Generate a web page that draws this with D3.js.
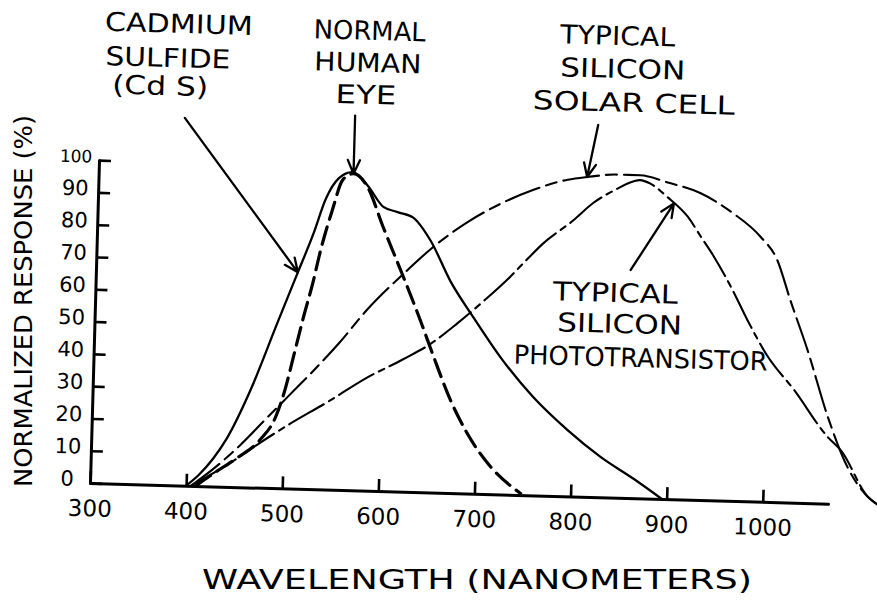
<!DOCTYPE html>
<html>
<head>
<meta charset="utf-8">
<script src="https://cdn.jsdelivr.net/npm/d3@7"></script>
<style>
  body { margin: 0; background: #fff; }
  svg { display: block; }
  text { font-family: "DejaVu Sans", sans-serif; fill: #000; }
</style>
</head>
<body>
<svg id="chart" width="877" height="605"></svg>
<script>
// ---- tick labels ----
const wavelengthTicks = [300, 400, 500, 600, 700, 800, 900, 1000];
const responseTicks = [0, 10, 20, 30, 40, 50, 60, 70, 80, 90, 100];

// ---- spectral response curves (wavelength in nm, normalized response in %) ----
const cdsWavelength = [400, 413, 427, 441, 464, 490, 510, 525, 537, 550, 564, 580, 597, 612, 628, 647, 669, 694, 723, 758, 795, 830, 865, 895];
const cdsResponse   = [0, 3.5, 8.5, 15, 30, 51, 67, 79, 90, 96.5, 98.5, 94.5, 88, 86.5, 85, 78, 65.5, 54.5, 42.5, 30.5, 20.5, 12.5, 6, 0];

const eyeWavelength = [410, 428, 452, 476, 491, 500, 508, 517, 526, 533, 544, 554, 565, 580, 597, 622, 639, 653, 672, 691, 716, 748];
const eyeResponse   = [0, 4, 9, 15, 22, 30.5, 41, 53, 64, 74, 86.5, 96, 98, 94, 82, 65, 53, 42.5, 29, 18.5, 8.5, 0.5];

const solarWavelength = [405, 430, 455, 480, 505, 530, 555, 583, 620, 650, 685, 719, 752, 788, 808, 839, 863, 892, 926, 961, 990, 1008, 1023, 1042, 1065, 1087, 1109, 1120];
const solarResponse   = [0, 6, 13, 21, 29, 37, 45.5, 56, 67.5, 76, 84, 90, 94.5, 98, 99, 100, 100, 98, 95, 89, 82, 75, 62.5, 47.5, 27, 11.5, 2.5, 0];

const photoWavelength = [405, 448, 476, 506, 544, 585, 622, 650, 677, 705, 731, 748, 764, 795, 815, 836, 856, 863, 874, 892, 914, 928, 942, 963, 979, 1001, 1029, 1066, 1080, 1109, 1120];
const photoResponse   = [0, 8, 14, 20, 27, 35, 41, 46, 52.5, 60, 67.5, 73, 78, 85.5, 91, 95, 98, 98.5, 97.5, 93.5, 87.5, 81.5, 75.5, 65, 56, 45, 35, 20.5, 16.5, 2.5, 0];

// ---- curve labels ----
const cdsLabel   = ["CADMIUM", "SULFIDE", "(Cd S)"];
const eyeLabel   = ["NORMAL", "HUMAN", "EYE"];
const solarLabel = ["TYPICAL", "SILICON", "SOLAR CELL"];
const photoLabel = ["TYPICAL", "SILICON", "PHOTOTRANSISTOR"];

// ---- pointer arrows: tail in data units, head lands on the curve at a wavelength ----
const arrowTailWavelength = [388, 565, 818, 856];
const arrowTailResponse   = [113.8, 116, 115.2, 70.6];
const arrowTargetWavelength = [510, 565, 808, 899];

const xAxisTitle = "WAVELENGTH (NANOMETERS)";
const yAxisTitle = "NORMALIZED RESPONSE (%)";

// ---------------------------------------------------------------------
const svg = d3.select("#chart");
const ox = 90, oy = 483;          // plot origin
const tilt = 1.6;                  // the sketched plot sits slightly askew

const x = d3.scaleLinear().domain([300, 1000]).range([ox, 763]);
const y = d3.scaleLinear().domain([0, 100]).range([oy, 160]);
const xAxisScale = x.copy().domain([300, 1068]).range([x(300), x(1068)]);

const plot = svg.append("g").attr("transform", `rotate(${tilt},${ox},${oy})`);

const zip = (a, b) => a.map((v, i) => [v, b[i]]);
const series = [
  { pts: zip(cdsWavelength, cdsResponse),     dash: null,          width: 2.3 },
  { pts: zip(eyeWavelength, eyeResponse),     dash: "18,8",        width: 3.2 },
  { pts: zip(solarWavelength, solarResponse), dash: "36,7,11,7",   width: 2.1 },
  { pts: zip(photoWavelength, photoResponse), dash: "40,6,6,6",    width: 2.1 }
];

// axes
const xAxis = d3.axisBottom(xAxisScale)
  .tickValues(wavelengthTicks)
  .tickSizeInner(-12).tickSizeOuter(0).tickPadding(17)
  .tickFormat(d3.format("d"));
const gx = plot.append("g").attr("transform", `translate(0,${oy})`).call(xAxis);

const yAxis = d3.axisLeft(y)
  .tickValues(responseTicks)
  .tickSizeInner(-12).tickSizeOuter(0).tickPadding(23)
  .tickFormat(d3.format("d"));
const gy = plot.append("g").attr("transform", `translate(${ox},0)`).call(yAxis);

[gx, gy].forEach(g => {
  g.select(".domain").attr("stroke", "#000").attr("stroke-width", 3).attr("stroke-linecap", "round");
  g.selectAll(".tick line").attr("stroke", "#000").attr("stroke-width", 2.6);
  g.selectAll("text").attr("font-family", "DejaVu Sans").attr("fill", "#000");
});
gx.selectAll("text").attr("font-size", 23);
gy.selectAll("text")
  .attr("font-size", d => d === 100 ? 17 : 21)
  .attr("text-anchor", "middle")
  .attr("x", -23)
  .attr("dy", "0.13em");

// curves
const line = d3.line()
  .x(d => x(d[0]))
  .y(d => y(d[1]))
  .curve(d3.curveMonotoneX);

plot.append("g").selectAll("path")
  .data(series)
  .join("path")
  .attr("d", s => line(s.pts))
  .attr("fill", "none")
  .attr("stroke", "#000")
  .attr("stroke-width", s => s.width)
  .attr("stroke-dasharray", s => s.dash)
  .attr("stroke-linecap", "round")
  .attr("stroke-linejoin", "round");

// pointer arrows
function responseAt(pts, w) {
  const i = d3.bisector(d => d[0]).left(pts, w);
  if (i <= 0) return pts[0][1];
  if (i >= pts.length) return pts[pts.length - 1][1];
  const [w0, r0] = pts[i - 1], [w1, r1] = pts[i];
  return r0 + (r1 - r0) * (w - w0) / (w1 - w0);
}
const arrows = arrowTargetWavelength.map((w, i) => {
  const x0 = x(arrowTailWavelength[i]), y0 = y(arrowTailResponse[i]);
  const x1 = x(w), y1 = y(responseAt(series[i].pts, w));
  return { x0, y0, x1, y1 };
});
const headLen = 15, headAng = 24 * Math.PI / 180;
plot.append("g").selectAll("path")
  .data(arrows)
  .join("path")
  .attr("d", a => {
    const ang = Math.atan2(a.y1 - a.y0, a.x1 - a.x0);
    const l = [a.x1 - headLen * Math.cos(ang - headAng), a.y1 - headLen * Math.sin(ang - headAng)];
    const r = [a.x1 - headLen * Math.cos(ang + headAng), a.y1 - headLen * Math.sin(ang + headAng)];
    return `M${a.x0},${a.y0}L${a.x1},${a.y1}M${l[0]},${l[1]}L${a.x1},${a.y1}L${r[0]},${r[1]}`;
  })
  .attr("fill", "none")
  .attr("stroke", "#000")
  .attr("stroke-width", 2.3)
  .attr("stroke-linecap", "round")
  .attr("stroke-linejoin", "round");

// curve captions (centre x, baseline y, set width per line)
const captions = [
  { lines: cdsLabel,   cx: [166, 156, 149], by: [30.5, 64.8, 93],    w: [148, 125, 96] },
  { lines: eyeLabel,   cx: [357, 356, 355], by: [32.2, 64.2, 96.3],  w: [112, 107, 61] },
  { lines: solarLabel, cx: [605, 611, 623], by: [30.3, 63.2, 96.9],  w: [115, 125, 202] },
  { lines: photoLabel, cx: [610, 615, 637], by: [287.4, 318.2, 351.7], w: [125, 125, 254] }
];
captions.forEach(c => {
  plot.append("g").selectAll("text")
    .data(c.lines)
    .join("text")
    .attr("x", (d, i) => c.cx[i])
    .attr("y", (d, i) => c.by[i])
    .attr("text-anchor", "middle")
    .attr("font-size", 26)
    .attr("textLength", (d, i) => c.w[i])
    .attr("lengthAdjust", "spacingAndGlyphs")
    .text(d => d);
});

// axis titles
svg.append("text")
  .attr("x", 477).attr("y", 589)
  .attr("text-anchor", "middle")
  .attr("font-size", 26)
  .attr("textLength", 550)
  .attr("lengthAdjust", "spacingAndGlyphs")
  .text(xAxisTitle);

svg.append("text")
  .attr("transform", "translate(32,301) rotate(-90)")
  .attr("text-anchor", "middle")
  .attr("font-size", 25)
  .attr("textLength", 372)
  .attr("lengthAdjust", "spacingAndGlyphs")
  .text(yAxisTitle);
</script>
</body>
</html>
